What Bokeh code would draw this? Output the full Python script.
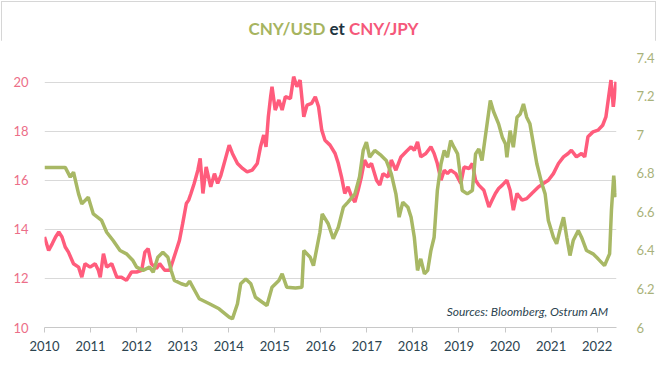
from bokeh.plotting import figure
from bokeh.models import Range1d, LinearAxis, FixedTicker, CustomJSTickFormatter, Label, Div
from bokeh.layouts import column
from bokeh.embed import file_html
from bokeh.resources import INLINE

# ---- data (decimal years) ----
usd_x = [2010.00, 2010.20, 2010.45, 2010.56, 2010.63, 2010.74, 2010.81, 2010.95, 2011.06, 2011.24,
         2011.35, 2011.49, 2011.64, 2011.78, 2011.92, 2012.00, 2012.14, 2012.28, 2012.36, 2012.46,
         2012.57, 2012.68, 2012.75, 2012.82, 2012.97, 2013.08, 2013.15, 2013.36, 2013.58, 2013.79,
         2014.01, 2014.08, 2014.19, 2014.26, 2014.37, 2014.48, 2014.58, 2014.73, 2014.83, 2014.94,
         2015.09, 2015.16, 2015.26, 2015.45, 2015.59, 2015.63, 2015.77, 2015.84, 2015.91, 2015.98,
         2016.03, 2016.16, 2016.27, 2016.38, 2016.49, 2016.59, 2016.74, 2016.84, 2016.92, 2016.99,
         2017.06, 2017.17, 2017.31, 2017.42, 2017.53, 2017.63, 2017.70, 2017.78, 2017.89, 2017.96,
         2018.03, 2018.10, 2018.17, 2018.25, 2018.32, 2018.39, 2018.46, 2018.53, 2018.61, 2018.68,
         2018.75, 2018.82, 2018.89, 2018.97, 2019.07, 2019.18, 2019.29, 2019.36, 2019.43, 2019.50,
         2019.58, 2019.68, 2019.75, 2019.86, 2019.94, 2020.01, 2020.04, 2020.11, 2020.18, 2020.26,
         2020.33, 2020.40, 2020.47, 2020.54, 2020.69, 2020.80, 2020.87, 2020.94, 2021.05, 2021.12,
         2021.19, 2021.27, 2021.34, 2021.41, 2021.48, 2021.59, 2021.66, 2021.77, 2021.91, 2022.02,
         2022.16, 2022.27, 2022.31, 2022.36, 2022.39, 2022.41]
usd_cny = [6.83, 6.83, 6.83, 6.78, 6.805, 6.693, 6.641, 6.675, 6.589, 6.555,
           6.494, 6.451, 6.399, 6.382, 6.347, 6.313, 6.296, 6.313, 6.287, 6.364,
           6.390, 6.364, 6.296, 6.244, 6.227, 6.218, 6.24, 6.149, 6.123, 6.097,
           6.054, 6.045, 6.123, 6.227, 6.252, 6.227, 6.157, 6.131, 6.114, 6.209,
           6.244, 6.278, 6.209, 6.205, 6.209, 6.399, 6.364, 6.321, 6.408, 6.494,
           6.589, 6.538, 6.46, 6.52, 6.624, 6.65, 6.693, 6.78, 6.918, 6.961,
           6.883, 6.918, 6.892, 6.866, 6.797, 6.693, 6.572, 6.65, 6.624, 6.572,
           6.468, 6.296, 6.356, 6.278, 6.296, 6.399, 6.468, 6.71, 6.849, 6.918,
           6.883, 6.969, 6.935, 6.9, 6.71, 6.693, 6.71, 6.9, 6.926, 6.866,
           7.004, 7.177, 7.12, 7.056, 6.987, 6.952, 6.883, 7.021, 6.935, 7.09,
           7.107, 7.159, 7.09, 7.056, 6.849, 6.745, 6.693, 6.555, 6.468, 6.434,
           6.503, 6.572, 6.468, 6.373, 6.451, 6.503, 6.468, 6.399, 6.382, 6.356,
           6.321, 6.382, 6.607, 6.788, 6.70, 6.676]

jpy_x = [2010.00, 2010.09, 2010.17, 2010.24, 2010.31, 2010.38, 2010.45, 2010.52, 2010.63, 2010.74,
         2010.81, 2010.88, 2010.99, 2011.10, 2011.17, 2011.21, 2011.28, 2011.35, 2011.46, 2011.57,
         2011.67, 2011.78, 2011.89, 2012.00, 2012.11, 2012.18, 2012.25, 2012.32, 2012.43, 2012.50,
         2012.61, 2012.72, 2012.79, 2012.86, 2012.93, 2013.00, 2013.08, 2013.13, 2013.18, 2013.25,
         2013.33, 2013.38, 2013.44, 2013.51, 2013.61, 2013.69, 2013.76, 2013.83, 2013.94, 2014.01,
         2014.08, 2014.19, 2014.30, 2014.40, 2014.51, 2014.62, 2014.69, 2014.76, 2014.81, 2014.86,
         2014.91, 2014.94, 2015.01, 2015.09, 2015.16, 2015.23, 2015.34, 2015.41, 2015.48, 2015.55,
         2015.63, 2015.70, 2015.80, 2015.88, 2015.95, 2016.02, 2016.09, 2016.20, 2016.31, 2016.38,
         2016.45, 2016.52, 2016.59, 2016.67, 2016.74, 2016.81, 2016.88, 2016.95, 2017.03, 2017.10,
         2017.21, 2017.28, 2017.35, 2017.46, 2017.53, 2017.63, 2017.74, 2017.85, 2017.96, 2018.03,
         2018.10, 2018.17, 2018.28, 2018.39, 2018.46, 2018.53, 2018.61, 2018.68, 2018.75, 2018.82,
         2018.93, 2019.04, 2019.11, 2019.22, 2019.29, 2019.36, 2019.43, 2019.54, 2019.65, 2019.72,
         2019.79, 2019.86, 2019.94, 2020.04, 2020.11, 2020.18, 2020.26, 2020.37, 2020.47, 2020.58,
         2020.73, 2020.83, 2020.94, 2021.05, 2021.16, 2021.27, 2021.37, 2021.44, 2021.55, 2021.66,
         2021.73, 2021.80, 2021.91, 2022.02, 2022.12, 2022.19, 2022.26, 2022.30, 2022.35, 2022.41]
cny_jpy = [13.69, 13.14, 13.42, 13.69, 13.89, 13.69, 13.28, 13.07, 12.60, 12.46,
           12.05, 12.60, 12.46, 12.60, 12.33, 12.05, 13.01, 12.46, 12.60, 12.05,
           12.05, 11.92, 12.26, 12.26, 12.33, 13.07, 13.21, 12.60, 12.40, 12.60,
           12.33, 12.33, 12.73, 13.14, 13.55, 14.23, 15.05, 15.19, 15.46, 15.87,
           16.41, 16.89, 15.46, 16.54, 15.73, 16.27, 15.87, 16.20, 16.95, 17.43,
           17.09, 16.68, 16.48, 16.34, 16.41, 16.68, 17.36, 17.84, 17.36, 18.58,
           19.40, 19.81, 18.86, 19.27, 18.86, 19.40, 19.33, 20.22, 19.81, 20.08,
           18.58, 19.06, 19.13, 19.40, 19.00, 18.04, 17.63, 17.43, 17.09, 16.68,
           16.13, 15.46, 15.73, 15.32, 15.11, 15.59, 16.13, 16.82, 16.54, 16.68,
           16.00, 15.80, 16.27, 16.13, 16.82, 16.41, 16.95, 17.16, 17.36, 17.22,
           17.56, 16.95, 17.09, 17.36, 17.09, 16.68, 16.00, 16.41, 16.27, 16.41,
           16.27, 15.87, 16.54, 16.48, 16.68, 16.00, 15.80, 15.59, 14.91, 15.19,
           15.46, 15.66, 15.80, 16.00, 15.59, 14.78, 15.46, 15.19, 15.25, 15.46,
           15.73, 15.87, 16.00, 16.27, 16.68, 16.95, 17.09, 17.22, 16.95, 17.09,
           16.95, 17.77, 17.97, 18.04, 18.24, 18.58, 19.54, 20.08, 18.99, 20.01]

year_ticks = list(range(2010, 2023))
left_ticks = [10, 12, 14, 16, 18, 20]
right_ticks = [6.0, 6.2, 6.4, 6.6, 6.8, 7.0, 7.2, 7.4]

RED = "#FF5C7C"
GREEN = "#A8B865"
FONT = "Lato"

TITLE_H = 40
title = Div(
    text=('<div style="width:657px;text-align:center;font-family:Lato;font-weight:bold;'
          'font-size:17px;line-height:18px;padding-top:20px;padding-left:10px;">'
          '<span style="color:#A6B460">CNY/USD</span> '
          '<span style="color:#1E3440">et</span> '
          '<span style="color:#F5587A">CNY/JPY</span></div>'),
    width=657, height=TITLE_H, margin=0)

p = figure(width=657, height=377 - TITLE_H, output_backend="svg", toolbar_location=None,
           x_range=Range1d(2010, 2022.42), y_range=Range1d(10, 21),
           min_border_left=44, min_border_right=37, min_border_top=57 - TITLE_H,
           min_border_bottom=50, margin=0)
p.background_fill_color = "white"
p.border_fill_color = "white"
p.outline_line_color = None
p.extra_y_ranges = {"usd": Range1d(6, 7.4)}

# x axis
xa = p.xaxis[0]
xa.ticker = FixedTicker(ticks=year_ticks)
xa.formatter = CustomJSTickFormatter(code="return tick.toFixed(0);")
xa.axis_line_color = "#C8C8C8"
xa.major_tick_line_color = "#C8C8C8"
xa.major_tick_in = 0
xa.major_tick_out = 5
xa.minor_tick_line_color = None
xa.major_label_text_color = "#2C4450"
xa.major_label_text_font = FONT
xa.major_label_text_font_size = "13px"
xa.major_label_standoff = 8

# left axis
ya = p.yaxis[0]
ya.ticker = FixedTicker(ticks=left_ticks)
ya.axis_line_color = None
ya.major_tick_line_color = None
ya.minor_tick_line_color = None
ya.major_label_text_color = "#EC6E88"
ya.major_label_text_font = FONT
ya.major_label_text_font_size = "13px"
ya.major_label_standoff = 10

# right axis
ra = LinearAxis(y_range_name="usd", ticker=FixedTicker(ticks=right_ticks),
                formatter=CustomJSTickFormatter(code="return tick.toFixed(1).replace(/\\.0$/, '');"))
ra.axis_line_color = None
ra.major_tick_line_color = None
ra.minor_tick_line_color = None
ra.major_label_text_color = "#A9B27A"
ra.major_label_text_font = FONT
ra.major_label_text_font_size = "13px"
ra.major_label_standoff = 14
p.add_layout(ra, "right")

p.xgrid.grid_line_color = None
p.ygrid.ticker = FixedTicker(ticks=[12, 14, 16, 18, 20])
p.ygrid.grid_line_color = "#D9D9D9"
p.ygrid.grid_line_width = 1

p.line(jpy_x, cny_jpy, line_color=RED, line_width=3.5)
p.line(usd_x, usd_cny, line_color=GREEN, line_width=3.5, y_range_name="usd")

p.add_layout(Label(x=564, y=16, x_units="screen", y_units="screen",
                   text="Sources: Bloomberg, Ostrum AM", text_color="#2C4450",
                   text_font=FONT, text_font_style="italic", text_font_size="12px",
                   text_baseline="middle", text_align="right"))

layout = column(title, p, spacing=0, margin=0,
                styles={"outline": "1px solid #D6D6D6", "outline-offset": "-2px"})
open("out.html", "w").write(file_html(layout, INLINE))
